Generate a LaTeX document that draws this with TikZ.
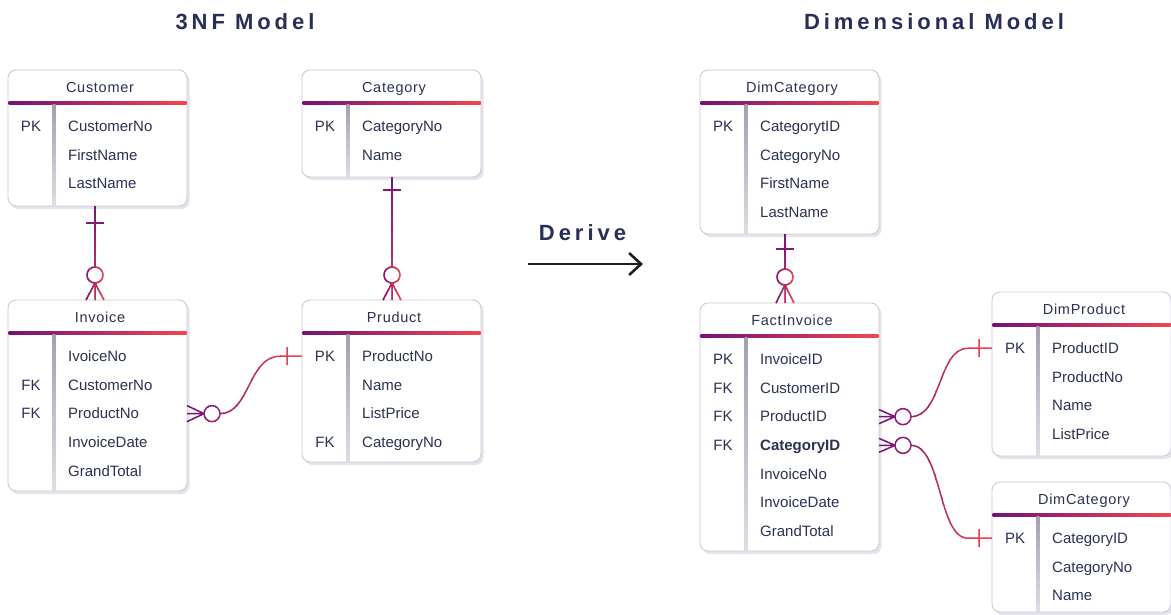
\documentclass[tikz,border=0pt]{standalone}
\usepackage{fontspec}
\setmainfont{Liberation Sans}
\newfontfamily\hdrfont{Liberation Sans}[LetterSpace=5]
\newfontfamily\ttlfont{Liberation Sans}[LetterSpace=18]
\usetikzlibrary{calc,arrows.meta}

\definecolor{cpurple}{HTML}{74127A}
\definecolor{cred}{HTML}{F2464E}
\definecolor{ink}{HTML}{2B3152}
\definecolor{navy}{HTML}{252F57}
\definecolor{frame}{HTML}{CDC9D7}
\definecolor{boxshadow}{HTML}{E5E3EB}
\definecolor{divtop}{HTML}{A59EB3}
\definecolor{divbot}{HTML}{E0DDE6}
\definecolor{arrowc}{HTML}{1E1E1E}

\tikzset{
  tbl/.style={draw=frame, line width=0.9pt, fill=white, rounded corners=8pt,
    minimum width=179pt, inner sep=0pt, outer sep=0pt, anchor=north west},
  hdr/.style={font=\hdrfont\fontsize{14.5}{17}\selectfont, text=ink, inner sep=0pt},
  fld/.style={font=\fontsize{15}{18}\selectfont, text=ink, inner sep=0pt},
  keyc/.style={font=\fontsize{15}{18}\selectfont, text=ink, inner sep=0pt},
  rel/.style={line width=1.5pt, line join=round},
  ttl/.style={font=\ttlfont\bfseries\fontsize{22}{26}\selectfont, text=navy, inner sep=0pt},
}

% entity table: name, top-left corner, height, title, key/field rows
\newcommand\ertable[5]{%
  \fill[boxshadow, rounded corners=8pt] ($(#2)+(2.5,3)$) rectangle ++(179,#3);
  \node[tbl, minimum height=#3pt] (#1) at (#2) {};
  \node[hdr, anchor=base] (#1-t) at ($(#1.north west)+(92,22.3)$) {#4};
  \shade[left color=cpurple, right color=cred]
    ($(#1.north west)+(0.5,31)$) rectangle ($(#1.north east)+(-0.5,34)$);
  \shade[top color=divtop, bottom color=divbot]
    ($(#1.north west)+(44.5,34)$) rectangle ($(#1.south west)+(47.5,0.5)$);
  \foreach \k/\f [count=\j from 0] in {#5}{
    \node[keyc, anchor=base] (#1-k\j) at ($(#1.north west)+(23,61.4+28.7*\j)$) {\k};
    \node[fld, anchor=base west] (#1-f\j) at ($(#1.north west)+(60,61.4+28.7*\j)$) {\f};
  }%
}

% stroke a path with a purple-to-red gradient running left to right
\newcommand\hgrad[3]{%
  \foreach \q in {0,...,15}{%
    \pgfmathsetmacro\xa{#1+(#2-#1)*\q/16-0.4}%
    \pgfmathsetmacro\xb{#1+(#2-#1)*(\q+1)/16+0.4}%
    \pgfmathtruncatemacro\pc{100-(\q+0.5)*100/16}%
    \begin{scope}
      \clip (\xa,-20) rectangle (\xb,640);
      \draw[rel, draw=cpurple!\pc!cred] #3;
    \end{scope}}}

% the same gradient running top to bottom
\newcommand\vgrad[3]{%
  \foreach \q in {0,...,15}{%
    \pgfmathsetmacro\ya{#1+(#2-#1)*\q/16-0.4}%
    \pgfmathsetmacro\yb{#1+(#2-#1)*(\q+1)/16+0.4}%
    \pgfmathtruncatemacro\pc{100-(\q+0.5)*100/16}%
    \begin{scope}
      \clip (-20,\ya) rectangle (1200,\yb);
      \draw[rel, draw=cpurple!\pc!cred] #3;
    \end{scope}}}

\begin{document}
\begin{tikzpicture}[x=1pt, y=-1pt]
\fill[white] (0,0) rectangle (1171,614);
\useasboundingbox (0,0) rectangle (1171,614);

% headings
\node[ttl] (t3nf) at (245,22) {3NF Model};
\node[ttl] (tdim) at (934,22) {Dimensional Model};
\node[ttl] (derive) at (582.5,233) {Derive};
\coordinate (d1) at (528,264);
\coordinate (d2) at (643,264);
\draw[line width=2.6pt, arrowc, -{Straight Barb[length=12pt,width=22pt]}] (d1) -- (d2);

% 3NF tables
\ertable{cust}{8,70}{136}{Customer}{PK/CustomerNo, /FirstName, /LastName}
\ertable{inv}{8,300}{191}{Invoice}{/IvoiceNo, FK/CustomerNo, FK/ProductNo, /InvoiceDate, /GrandTotal}
\ertable{cat}{302,70}{107}{Category}{PK/CategoryNo, /Name}
\ertable{prod}{302,300}{162}{Pruduct}{PK/ProductNo, /Name, /ListPrice, FK/CategoryNo}

% dimensional tables
\ertable{dcat}{700,70}{164}{DimCategory}{PK/CategorytID, /CategoryNo, /FirstName, /LastName}
\ertable{fact}{700,303}{248}{FactInvoice}{PK/InvoiceID, FK/CustomerID, FK/ProductID, FK/\textbf{CategoryID}, /InvoiceNo, /InvoiceDate, /GrandTotal}
\ertable{dprod}{992,292}{164}{DimProduct}{PK/ProductID, /ProductNo, /Name, /ListPrice}
\ertable{dcat2}{992,482}{130}{DimCategory}{PK/CategoryID, /CategoryNo, /Name}

% Customer 1 -- many Invoice
\coordinate (ci1) at ($(cust.south)+(-2.5,0)$);
\coordinate (ci2) at (ci1 |- inv.north);
\vgrad{206}{320}{(ci1) -- ($(ci2)+(0,-33)$) ($(ci1)+(-9,17)$) -- ++(18,0)}
\hgrad{85}{105}{($(ci2)+(0,-25)$) circle[radius=8pt]
  ($(ci2)+(-9,0)$) -- ($(ci2)+(0,-17)$) -- ($(ci2)+(9,0)$) ($(ci2)+(0,-17)$) -- (ci2)}

% Category 1 -- many Pruduct
\coordinate (cp1) at ($(cat.south)+(0.5,0)$);
\coordinate (cp2) at (cp1 |- prod.north);
\vgrad{177}{320}{(cp1) -- ($(cp2)+(0,-33)$) ($(cp1)+(-9,13)$) -- ++(18,0)}
\hgrad{382}{402}{($(cp2)+(0,-25)$) circle[radius=8pt]
  ($(cp2)+(-9,0)$) -- ($(cp2)+(0,-17)$) -- ($(cp2)+(9,0)$) ($(cp2)+(0,-17)$) -- (cp2)}

% Invoice many -- 1 Pruduct
\coordinate (ip1) at (inv.east |- inv-k2);
\coordinate (ip2) at (prod.west |- prod-k0);
\hgrad{187}{302}{($(ip1)+(0,-8)$) -- ($(ip1)+(17,0)$) -- ($(ip1)+(0,8)$) (ip1) -- ($(ip1)+(17,0)$)
  ($(ip1)+(25,0)$) circle[radius=8pt]
  ($(ip1)+(33,0)$) .. controls ($(ip1)+(63,0)$) and ($(ip2)+(-54,0)$) .. ($(ip2)+(-22,0)$) -- (ip2)
  ($(ip2)+(-15,-9)$) -- ++(0,18)}

% DimCategory 1 -- many FactInvoice
\coordinate (df1) at ($(dcat.south)+(-4.5,0)$);
\coordinate (df2) at (df1 |- fact.north);
\vgrad{234}{330}{(df1) -- ($(df2)+(0,-34)$) ($(df1)+(-9,15)$) -- ++(18,0)}
\hgrad{775}{795}{($(df2)+(0,-26)$) circle[radius=8pt]
  ($(df2)+(-9,0)$) -- ($(df2)+(0,-18)$) -- ($(df2)+(9,0)$) ($(df2)+(0,-18)$) -- (df2)}

% FactInvoice many -- 1 DimProduct
\coordinate (fp1) at (fact.east |- fact-k2);
\coordinate (fp2) at (dprod.west |- dprod-k0);
\hgrad{879}{992}{($(fp1)+(0,-7)$) -- ($(fp1)+(16,0)$) -- ($(fp1)+(0,7)$) (fp1) -- ($(fp1)+(16,0)$)
  ($(fp1)+(24,0)$) circle[radius=8pt]
  ($(fp1)+(32,0)$) .. controls ($(fp1)+(63,0)$) and ($(fp2)+(-54,0)$) .. ($(fp2)+(-24,0)$) -- (fp2)
  ($(fp2)+(-13,-9)$) -- ++(0,18)}

% FactInvoice many -- 1 DimCategory
\coordinate (fc1) at (fact.east |- fact-k3);
\coordinate (fc2) at (dcat2.west |- dcat2-k0);
\hgrad{879}{992}{($(fc1)+(0,-7)$) -- ($(fc1)+(16,0)$) -- ($(fc1)+(0,7)$) (fc1) -- ($(fc1)+(16,0)$)
  ($(fc1)+(24,0)$) circle[radius=8pt]
  ($(fc1)+(32,0)$) .. controls ($(fc1)+(63,0)$) and ($(fc2)+(-54,0)$) .. ($(fc2)+(-24,0)$) -- (fc2)
  ($(fc2)+(-13,-9)$) -- ++(0,18)}
\end{tikzpicture}
\end{document}
